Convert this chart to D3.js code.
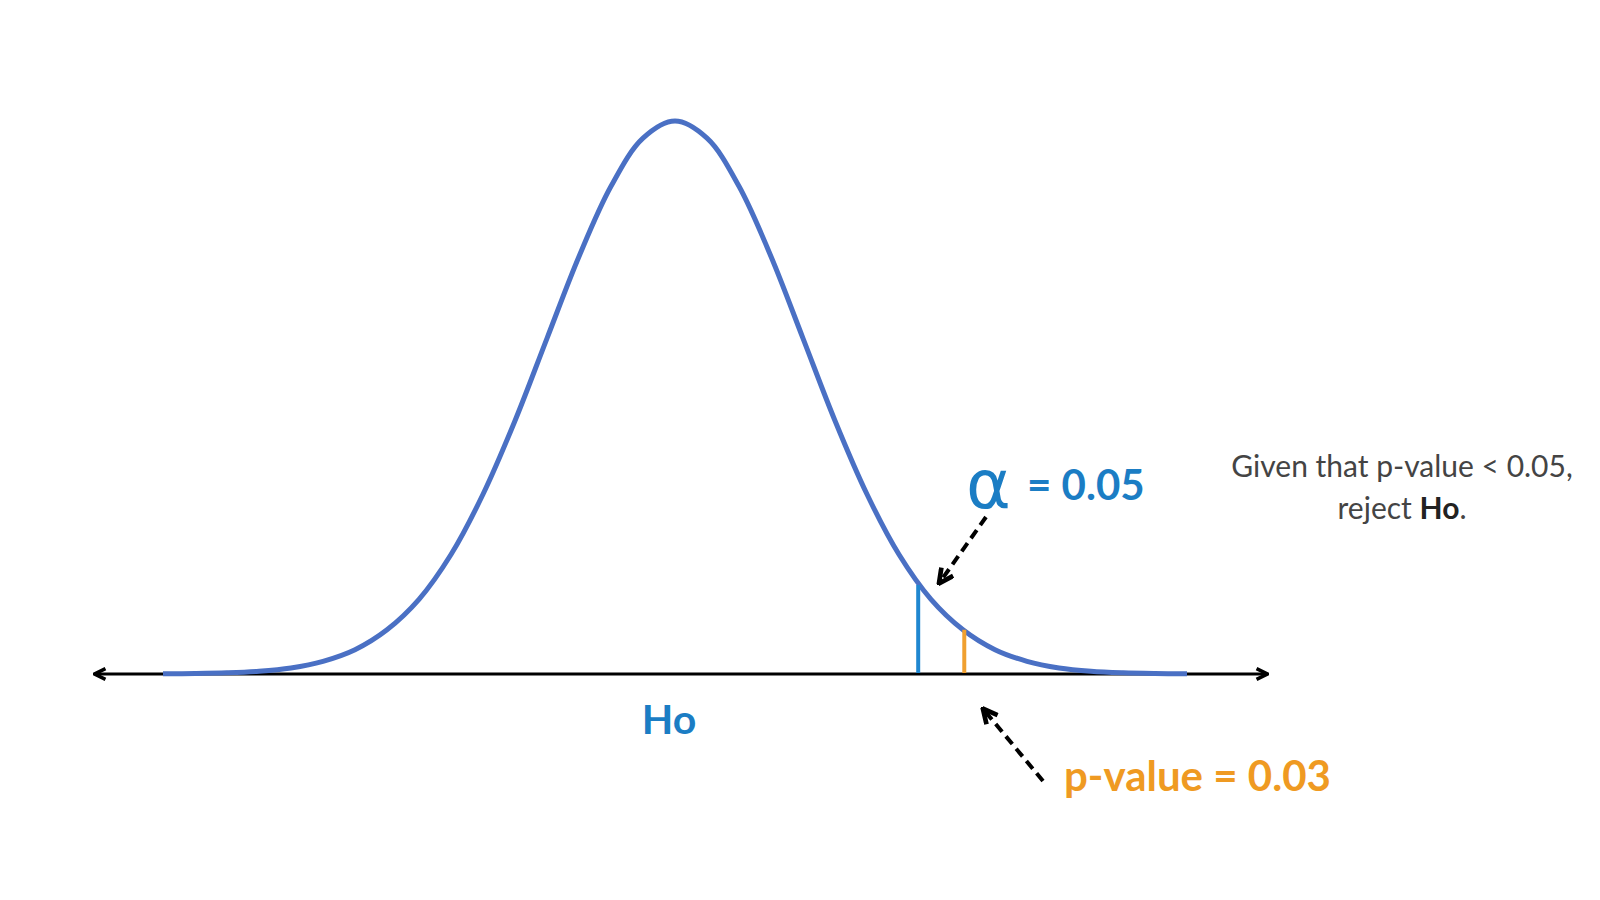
<!DOCTYPE html>
<html>
<head>
<meta charset="utf-8">
<script src="https://cdn.jsdelivr.net/npm/d3@7"></script>
<style>
  body { margin: 0; background: #fff; }
  svg { display: block; }
</style>
</head>
<body>
<script>
// curve points (x in sd units, height relative to the peak)
var zValues = [-4, -3.75, -3.5, -3.25, -3, -2.75, -2.5, -2.25, -2, -1.75, -1.5, -1.25, -1, -0.75, -0.5, -0.25,
               0, 0.25, 0.5, 0.75, 1, 1.25, 1.5, 1.75, 2, 2.25, 2.5, 2.75, 3, 3.25, 3.5, 3.75, 4];
var heights = [0.0003, 0.0009, 0.0022, 0.005, 0.011, 0.023, 0.044, 0.08, 0.135, 0.216, 0.325, 0.458, 0.607, 0.755, 0.882, 0.969,
               1, 0.969, 0.882, 0.755, 0.607, 0.458, 0.325, 0.216, 0.135, 0.08, 0.044, 0.023, 0.011, 0.005, 0.0022, 0.0009, 0.0003];

// the two marker lines: position and where they meet the curve
var markerNames = ["alpha", "pvalue"];
var markerZ = [1.9, 2.26];
var markerHeight = [0.161, 0.08];
var markerColors = ["#1f87d0", "#f0a030"];

var blue = "#1b7dc4";
var orange = "#ef9a22";

var width = 1600, height = 900;

var svg = d3.select("body").append("svg")
    .attr("width", width)
    .attr("height", height);

// scales
var x = d3.scaleLinear().domain([-4, 4]).range([163, 1187]);
var y = d3.scaleLinear().domain([0, 1]).range([674, 121]);
var axisY = y(0);

// arrow markers
var defs = svg.append("defs");
defs.append("marker")
    .attr("id", "axisHead")
    .attr("viewBox", "0 0 10 10")
    .attr("refX", 8).attr("refY", 5)
    .attr("markerWidth", 4.5).attr("markerHeight", 4.5)
    .attr("markerUnits", "strokeWidth")
    .attr("orient", "auto-start-reverse")
  .append("path")
    .attr("d", "M1,1 L9,5 L1,9")
    .attr("fill", "none")
    .attr("stroke", "#000")
    .attr("stroke-width", 2.6)
    .attr("stroke-linejoin", "miter");

defs.append("marker")
    .attr("id", "dashHead")
    .attr("viewBox", "0 0 10 10")
    .attr("refX", 8).attr("refY", 5)
    .attr("markerWidth", 4.5).attr("markerHeight", 4.5)
    .attr("markerUnits", "strokeWidth")
    .attr("orient", "auto")
  .append("path")
    .attr("d", "M1,1 L9,5 L1,9")
    .attr("fill", "none")
    .attr("stroke", "#000")
    .attr("stroke-width", 2.6);

// horizontal axis with arrows at both ends
svg.append("line")
    .attr("x1", 96).attr("x2", 1266)
    .attr("y1", axisY).attr("y2", axisY)
    .attr("stroke", "#000")
    .attr("stroke-width", 3)
    .attr("marker-start", "url(#axisHead)")
    .attr("marker-end", "url(#axisHead)");

// bell curve
var line = d3.line()
    .x(function(d, i) { return x(zValues[i]); })
    .y(function(d) { return y(d); })
    .curve(d3.curveCatmullRom);

svg.append("path")
    .datum(heights)
    .attr("d", line)
    .attr("fill", "none")
    .attr("stroke", "#4a70c4")
    .attr("stroke-width", 5);

// marker lines (alpha and p-value)
svg.selectAll(".marker")
    .data(markerZ)
    .enter()
    .append("line")
    .attr("class", function(d, i) { return "marker " + markerNames[i]; })
    .attr("x1", function(d) { return x(d); })
    .attr("x2", function(d) { return x(d); })
    .attr("y1", axisY - 1)
    .attr("y2", function(d, i) { return y(markerHeight[i]); })
    .attr("stroke", function(d, i) { return markerColors[i]; })
    .attr("stroke-width", 4);

// dashed pointer arrows
svg.append("line")
    .attr("x1", 986).attr("y1", 517)
    .attr("x2", 940).attr("y2", 582)
    .attr("stroke", "#000")
    .attr("stroke-width", 4)
    .attr("stroke-dasharray", "10,6")
    .attr("marker-end", "url(#dashHead)");

svg.append("line")
    .attr("x1", 1043).attr("y1", 781)
    .attr("x2", 984).attr("y2", 710)
    .attr("stroke", "#000")
    .attr("stroke-width", 4)
    .attr("stroke-dasharray", "10,6")
    .attr("marker-end", "url(#dashHead)");

// labels
svg.append("text")
    .attr("x", 966).attr("y", 508)
    .style("font", "68px 'DejaVu Sans', sans-serif")
    .style("fill", blue)
    .text("α");

svg.append("text")
    .attr("x", 1027).attr("y", 500)
    .style("font", "bold 42px Lato, sans-serif")
    .style("fill", blue)
    .text("= 0.05");

svg.append("text")
    .attr("x", 669).attr("y", 734)
    .style("text-anchor", "middle")
    .style("font", "bold 41px Lato, sans-serif")
    .style("fill", blue)
    .text("Ho");

svg.append("text")
    .attr("x", 1064).attr("y", 791)
    .style("font", "bold 42px Lato, sans-serif")
    .style("fill", orange)
    .text("p-value = 0.03");

var note = svg.append("text")
    .attr("x", 1402).attr("y", 477)
    .style("text-anchor", "middle")
    .style("font", "30px Lato, sans-serif")
    .style("fill", "#444");
note.append("tspan")
    .attr("x", 1402)
    .text("Given that p-value < 0.05,");
note.append("tspan")
    .attr("x", 1402).attr("dy", 42)
    .text("reject ")
  .append("tspan")
    .style("font-weight", "bold")
    .style("fill", "#222")
    .text("Ho");
note.select("tspan:last-child").append("tspan").text(".");
</script>
</body>
</html>
